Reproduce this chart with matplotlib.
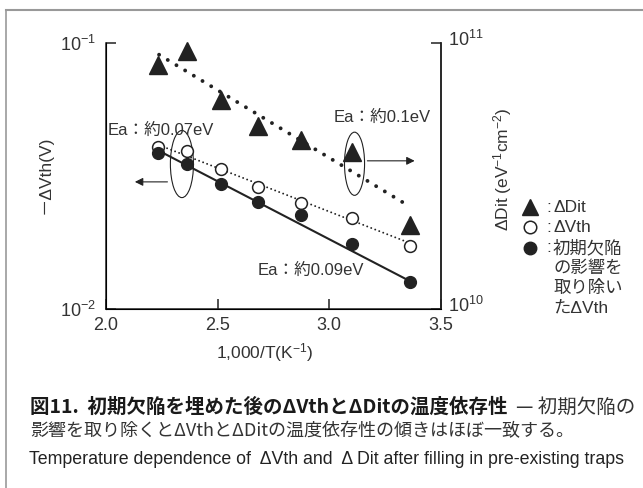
import numpy as np
import matplotlib
matplotlib.use("Agg")
import matplotlib.pyplot as plt
import matplotlib.transforms as mtransforms
from matplotlib.patches import Ellipse
from matplotlib.lines import Line2D

plt.rcParams['font.family'] = ['Liberation Sans', 'Noto Sans CJK JP', 'DejaVu Sans']
plt.rcParams['mathtext.fontset'] = 'custom'
plt.rcParams['mathtext.rm'] = 'Liberation Sans'
plt.rcParams['mathtext.it'] = 'Liberation Sans'

# measured points (x = 1000/T)
x_pts = [2.235, 2.365, 2.515, 2.682, 2.874, 3.103, 3.362]
dit = [8.2e10, 9.3e10, 6.1e10, 4.85e10, 4.3e10, 3.87e10, 2.07e10]      # right axis
dvth = [0.0407, 0.0392, 0.0335, 0.0288, 0.0250, 0.0219, 0.0172]       # open circles
dvth_corr = [0.0385, 0.0350, 0.0294, 0.0251, 0.0225, 0.0176, 0.01266]  # filled circles

# fitted lines (end points)
fit_x = [2.238, 3.353]
fit_dit = [9.0e10, 2.45e10]
fit_dvth = [0.0412, 0.0178]
fit_corr = [0.0392, 0.01285]

ink = '#222222'
txt = '#333333'
cjk = ['Noto Sans CJK JP', 'DejaVu Sans']

fig = plt.figure(figsize=(6.43, 4.88), dpi=100)
W, H = 643, 488

def fx(px):
    return px / W

def fy(py):
    return 1 - py / H

# outer frame (top and left only visible)
fig.add_artist(Line2D([fx(6), 1.0], [fy(10), fy(10)], color='#999999', lw=1.5))
fig.add_artist(Line2D([fx(6), fx(6)], [fy(10), 0.0], color='#999999', lw=1.2))

ax = fig.add_axes([fx(106), fy(309), fx(440.5) - fx(106), fy(42.5) - fy(309)])
ax.set_yscale('log')
ax.set_xlim(2.0, 3.5)
ax.set_ylim(1e-2, 1e-1)
ax.spines['top'].set_visible(False)
for s in ['left', 'right', 'bottom']:
    ax.spines[s].set_color(ink)
    ax.spines[s].set_linewidth(1.1)
ax.set_xticks([2.0, 2.5, 3.0, 3.5])
ax.set_xticklabels(['2.0', '2.5', '3.0', '3.5'])
ax.set_yticks([1e-2, 1e-1])
ax.yaxis.set_minor_locator(matplotlib.ticker.NullLocator())
ax.tick_params(direction='in', length=7, width=1.1, color=ink, labelsize=13, labelcolor=txt)
ax.tick_params(axis='x', pad=6)
ax.tick_params(axis='y', pad=7)

ax2 = ax.twinx()
ax2.set_yscale('log')
ax2.set_ylim(1e10, 1e11)
ax2.spines['top'].set_visible(False)
ax2.spines['right'].set_color(ink)
ax2.spines['right'].set_linewidth(1.1)
ax2.set_yticks([1e10, 1e11])
ax2.yaxis.set_minor_locator(matplotlib.ticker.NullLocator())
ax2.tick_params(direction='in', length=7, width=1.1, color=ink, labelsize=13, labelcolor=txt, pad=4)
shift = mtransforms.ScaledTranslation(0.02, 0.05, fig.dpi_scale_trans)
for lab in ax2.get_yticklabels():
    lab.set_transform(lab.get_transform() + shift)

# lines
ax2.plot(fit_x, fit_dit, color=ink, lw=2.8, linestyle=(0, (0.01, 2.6)), dash_capstyle='round')
ax.plot(fit_x, fit_dvth, color=ink, lw=1.4, linestyle=(0, (0.01, 2.2)), dash_capstyle='round')
ax.plot(fit_x, fit_corr, color=ink, lw=1.5)

# markers
ax2.plot(x_pts, dit, '^', ms=12.5, color=ink, mec=ink, lw=0, clip_on=False)
ax.plot(x_pts, dvth, 'o', ms=8.5, mfc='white', mec=ink, mew=1.1, lw=0, clip_on=False)
ax.plot(x_pts, dvth_corr, 'o', ms=8.5, color=ink, lw=0, clip_on=False)

# annotations
ax.text(0.006, 0.67, 'Ea：約0.07eV', transform=ax.transAxes, fontsize=12, color=txt, va='center')
ax.text(0.68, 0.72, 'Ea：約0.1eV', transform=ax.transAxes, fontsize=12, color=txt, va='center')
ax.text(0.452, 0.144, 'Ea：約0.09eV', transform=ax.transAxes, fontsize=12, color=txt, va='center')
ax.add_patch(Ellipse((0.227, 0.544), 0.069, 0.252, transform=ax.transAxes, fill=False, ec=ink, lw=0.8))
ax.add_patch(Ellipse((0.743, 0.545), 0.060, 0.237, transform=ax.transAxes, fill=False, ec=ink, lw=0.8))
ax.annotate('', xy=(0.078, 0.477), xytext=(0.192, 0.477), xycoords='axes fraction',
            arrowprops=dict(arrowstyle='-|>', lw=0.8, color=ink, mutation_scale=12))
ax.annotate('', xy=(0.931, 0.556), xytext=(0.773, 0.556), xycoords='axes fraction',
            arrowprops=dict(arrowstyle='-|>', lw=0.8, color=ink, mutation_scale=12))

# axis labels
fig.text(fx(45), fy(175), '－ΔVth(V)', rotation=90, ha='center', va='center', fontsize=12.5, color=txt)
fig.text(fx(503), fy(169), 'ΔDit (eV$^{-1}$cm$^{-2}$)', rotation=90, ha='center', va='center',
         fontsize=12.5, color=txt)
fig.text(fx(265), fy(353), '1,000/T(K$^{-1}$)', ha='center', va='center', fontsize=12.5, color=txt)

# legend
leg_rows = [207, 227, 248]
leg_marks = [dict(marker='^', ms=12, color=ink),
             dict(marker='o', ms=9, mfc='white', mec=ink, mew=1.1),
             dict(marker='o', ms=9, color=ink)]
leg_text = [['ΔDit'], ['ΔVth'], ['初期欠陥', 'の影響を', '取り除い', 'たΔVth']]
for row, mk, lines in zip(leg_rows, leg_marks, leg_text):
    fig.add_artist(Line2D([fx(530)], [fy(row)], lw=0, **mk))
    fig.text(fx(546), fy(row), ':', ha='left', va='center', fontsize=12.5, color=txt)
    for i, line in enumerate(lines):
        fig.text(fx(553), fy(row + 20 * i), line, ha='left', va='center', fontsize=12.5, color=txt)

# caption
t1 = fig.text(fx(30), fy(407), '図11.  初期欠陥を埋めた後のΔVthとΔDitの温度依存性', ha='left', va='center',
              fontsize=14, fontweight='bold', color='#1a1a1a', family=cjk)
fig.canvas.draw()
bb = t1.get_window_extent()
fig.text(bb.x1 / W + fx(8), fy(407), '— 初期欠陥の', ha='left', va='center', fontsize=14,
         color='#333333', family=cjk)
fig.text(fx(30), fy(431), '影響を取り除くとΔVthとΔDitの温度依存性の傾きはほぼ一致する。', ha='left', va='center',
         fontsize=13, color='#333333', family=cjk)
fig.text(fx(29), fy(459), 'Temperature dependence of  ΔVth and  Δ Dit after filling in pre-existing traps',
         ha='left', va='center', fontsize=12.8, color='#222222')

fig.savefig('out.png', dpi=100)
